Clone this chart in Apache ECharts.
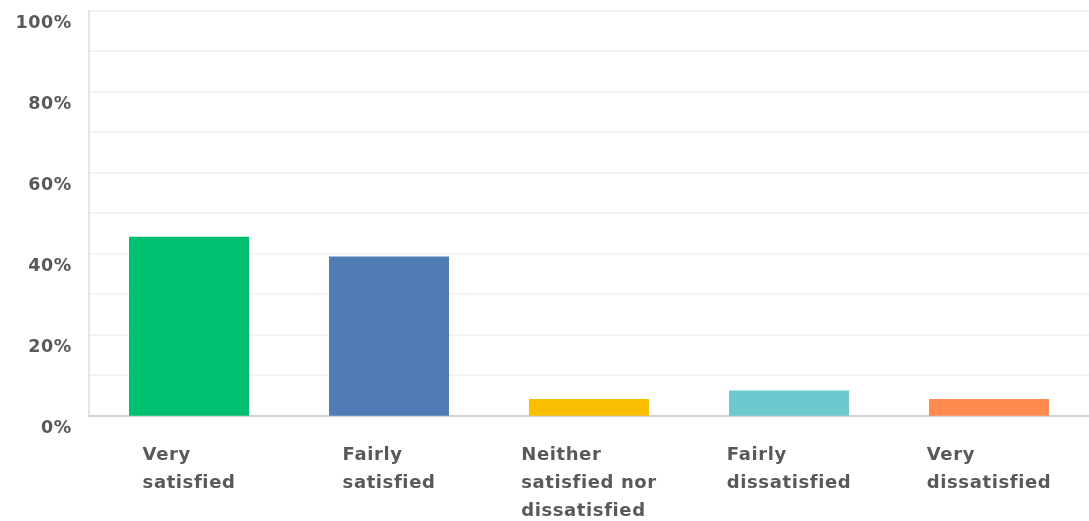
<!DOCTYPE html>
<html>
<head>
<meta charset="utf-8">
<script src="https://cdn.jsdelivr.net/npm/echarts@6/dist/echarts.min.js"></script>
<style>
  html, body { margin: 0; padding: 0; background: #fff; }
  #chart { width: 1089px; height: 521px; }
</style>
</head>
<body>
<div id="chart"></div>
<script>
// Satisfaction survey responses, share of respondents (%)
const categories = [
  "Very\nsatisfied",
  "Fairly\nsatisfied",
  "Neither\nsatisfied nor\ndissatisfied",
  "Fairly\ndissatisfied",
  "Very\ndissatisfied"
];
const shares = [44.2, 39.3, 4.1, 6.2, 4.1];
const barColors = ["#00BF6F", "#507CB6", "#F9BE00", "#6BC8CD", "#FF8B4F"];
const yTicks = [0, 20, 40, 60, 80, 100];

const FONT = "'DejaVu Sans', sans-serif";
const TEXT = "#595959";
const TRACKING = "0.6px";

// Labels are set with slightly open letter spacing; apply it to every 2D
// context so text is measured and drawn the same way.
const baseGetContext = HTMLCanvasElement.prototype.getContext;
HTMLCanvasElement.prototype.getContext = function (type, attrs) {
  const ctx = baseGetContext.call(this, type, attrs);
  if (type === "2d" && ctx && "letterSpacing" in ctx) ctx.letterSpacing = TRACKING;
  return ctx;
};

const chart = echarts.init(document.getElementById("chart"), null, { renderer: "canvas" });

chart.setOption({
  animation: false,
  grid: { left: 89, top: 10.7, width: 1004, bottom: 104.3, containLabel: false },
  xAxis: {
    type: "category",
    data: categories,
    axisLine: { show: true, lineStyle: { color: "#c8c8c8", width: 1.5 } },
    axisTick: { show: false },
    splitLine: { show: false },
    axisLabel: {
      interval: 0,
      margin: 26,
      align: "center",
      formatter: (v) => v.split("\n").map((s) => "{t|" + s + "}").join("\n"),
      rich: {
        t: {
          align: "left",
          fontFamily: FONT,
          fontWeight: "bold",
          fontSize: 18,
          lineHeight: 28,
          color: TEXT
        }
      }
    }
  },
  yAxis: {
    type: "value",
    min: 0,
    max: 100,
    interval: 10,
    axisLine: { show: true, lineStyle: { color: "#dcdcdc", width: 1.5 } },
    axisTick: { show: false },
    splitLine: { show: true, lineStyle: { color: "#efefef", width: 1.5 } },
    axisLabel: {
      margin: 17,
      fontFamily: FONT,
      fontWeight: "bold",
      fontSize: 17.5,
      color: TEXT,
      verticalAlign: "top",
      lineHeight: 25,
      formatter: (v) => (yTicks.includes(v) ? v + "%" : "")
    }
  },
  series: [{
    type: "bar",
    barWidth: "60%",
    data: shares.map((v, i) => ({ value: v, itemStyle: { color: barColors[i] } })),
    label: { show: false }
  }]
});
</script>
</body>
</html>
